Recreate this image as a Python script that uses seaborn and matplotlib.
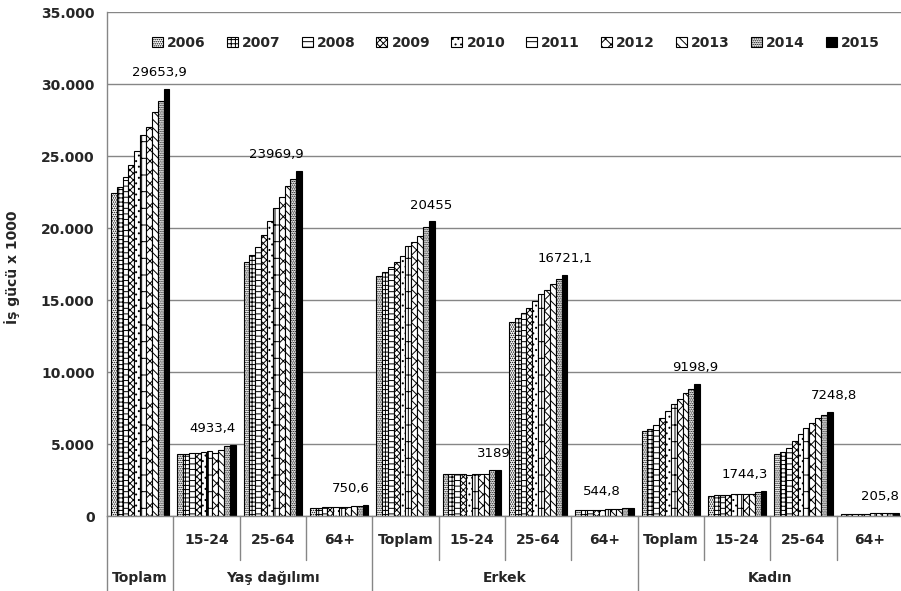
import matplotlib
matplotlib.use("Agg")
import matplotlib.pyplot as plt
import pandas as pd
import seaborn as sns

# --- data (thousands of people) ---
years = ["2006", "2007", "2008", "2009", "2010", "2011", "2012", "2013", "2014", "2015"]

toplam = [22430, 22830, 23520, 24400, 25350, 26460, 27040, 28040, 28840, 29653.9]
yas_15_24 = [4290, 4330, 4360, 4350, 4420, 4490, 4380, 4580, 4830, 4933.4]
yas_25_64 = [17630, 18100, 18680, 19530, 20480, 21410, 22120, 22890, 23420, 23969.9]
yas_64 = [560, 580, 600, 600, 610, 640, 620, 660, 720, 750.6]
erkek_toplam = [16690, 16920, 17310, 17620, 18080, 18730, 19000, 19470, 20090, 20455]
erkek_15_24 = [2890, 2890, 2890, 2890, 2870, 2900, 2890, 2940, 3220, 3189]
erkek_25_64 = [13440, 13740, 14070, 14420, 14900, 15390, 15710, 16100, 16450, 16721.1]
erkek_64 = [410, 420, 430, 440, 450, 470, 470, 490, 530, 544.8]
kadin_toplam = [5900, 6060, 6320, 6780, 7290, 7800, 8150, 8560, 8800, 9198.9]
kadin_15_24 = [1410, 1440, 1460, 1480, 1500, 1520, 1510, 1530, 1640, 1744.3]
kadin_25_64 = [4330, 4470, 4750, 5210, 5670, 6140, 6480, 6830, 7010, 7248.8]
kadin_64 = [150, 150, 160, 160, 165, 175, 175, 185, 200, 205.8]

categories = ["Toplam", "Yaş 15-24", "Yaş 25-64", "Yaş 64+",
              "Erkek Toplam", "Erkek 15-24", "Erkek 25-64", "Erkek 64+",
              "Kadın Toplam", "Kadın 15-24", "Kadın 25-64", "Kadın 64+"]
series = [toplam, yas_15_24, yas_25_64, yas_64,
          erkek_toplam, erkek_15_24, erkek_25_64, erkek_64,
          kadin_toplam, kadin_15_24, kadin_25_64, kadin_64]
tick_labels = ["", "15-24", "25-64", "64+", "Toplam", "15-24", "25-64", "64+",
               "Toplam", "15-24", "25-64", "64+"]
groups = [("Toplam", 0, 1), ("Yaş dağılımı", 1, 4), ("Erkek", 4, 8), ("Kadın", 8, 12)]

# horizontal nudge (pixels) of each value label relative to the 2015 bar
label_dx = [-7, -20, -23, -15, -1, -4, 1, -29, -2, -19, 4, -16]

rows = []
for cat, vals in zip(categories, series):
    for yr, v in zip(years, vals):
        rows.append({"kategori": cat, "yil": yr, "deger": v})
df = pd.DataFrame(rows)

# --- style ---
sns.set_style("white")
plt.rcParams["font.family"] = ["DejaVu Sans"]
plt.rcParams["hatch.linewidth"] = 0.7
GRAY = "#868686"

W, H = 901, 591
fig = plt.figure(figsize=(W / 100, H / 100), dpi=100)
ax_left, ax_right, ax_top, ax_bottom = 107, 903, 12, 516
ax = fig.add_axes([ax_left / W, 1 - ax_bottom / H, (ax_right - ax_left) / W, (ax_bottom - ax_top) / H])

palette = ["white"] * 9 + ["black"]
sns.barplot(data=df, x="kategori", y="deger", hue="yil", order=categories,
            hue_order=years, palette=palette, saturation=1, width=0.88,
            edgecolor="black", linewidth=0.8, legend=False, ax=ax)

hatches = ["........", "++++", "---", "xxxxx", "...", "+", "xxx", "\\\\\\\\", ".........", None]
for cont, h in zip(ax.containers, hatches):
    for p in cont.patches:
        if h:
            p.set_hatch(h)

ax.set_ylim(0, 35000)
ax.set_xlim(-0.5, len(categories) - 0.5)
yt = list(range(0, 35001, 5000))
ax.set_yticks(yt)
ax.set_yticklabels([f"{v:,}".replace(",", ".") for v in yt], fontsize=10, fontweight="bold")
ax.tick_params(axis="y", length=5, color=GRAY, width=1, pad=4)
ax.set_xticks([])
ax.set_xlabel("")
ax.set_ylabel("")
ax.yaxis.grid(True, color=GRAY, linewidth=1)
ax.set_axisbelow(True)
for s in ["top", "right"]:
    ax.spines[s].set_visible(False)
for s in ["left", "bottom"]:
    ax.spines[s].set_color(GRAY)
    ax.spines[s].set_linewidth(1)

# value labels above the 2015 bars
last = ax.containers[-1]
for i, p in enumerate(last.patches):
    v = series[i][-1]
    txt = f"{v:g}".replace(".", ",")
    x = p.get_x() + p.get_width() / 2
    ax.annotate(txt, (x, p.get_height()), xytext=(label_dx[i] * 0.72, 7),
                textcoords="offset points", ha="center", va="bottom",
                fontsize=9.5, color="black")

# two-level category axis
tr = ax.get_xaxis_transform()
axh = ax_bottom - ax_top
y_row1 = -24 / axh
y_row2 = -62 / axh
y_short = -44 / axh
y_full = -(H - ax_bottom) / axh
for i, lab in enumerate(tick_labels):
    if lab:
        ax.text(i, y_row1, lab, transform=tr, ha="center", va="center",
                fontsize=10, fontweight="bold")
group_edges = {g[1] for g in groups} | {groups[-1][2]}
for b in range(len(categories) + 1):
    y_end = y_full if b in group_edges else y_short
    ax.plot([b - 0.5, b - 0.5], [0, y_end], transform=tr, color=GRAY,
            linewidth=1, clip_on=False)
for name, a, b in groups:
    ax.text((a + b - 1) / 2, y_row2, name, transform=tr, ha="center",
            va="center", fontsize=10, fontweight="bold")

fig.text(12 / W, 1 - 267 / H, "İş gücü x 1000", rotation=90, ha="center",
         va="center", fontsize=10, fontweight="bold")

ax.legend(ax.containers, years, loc="center", bbox_to_anchor=(516 / W, 1 - 43 / H),
          bbox_transform=fig.transFigure, ncol=10, frameon=False,
          handlelength=0.8, handleheight=0.8, handletextpad=0.3,
          columnspacing=1.5, prop={"weight": "bold", "size": 10})

fig.savefig("out.png", dpi=100)
